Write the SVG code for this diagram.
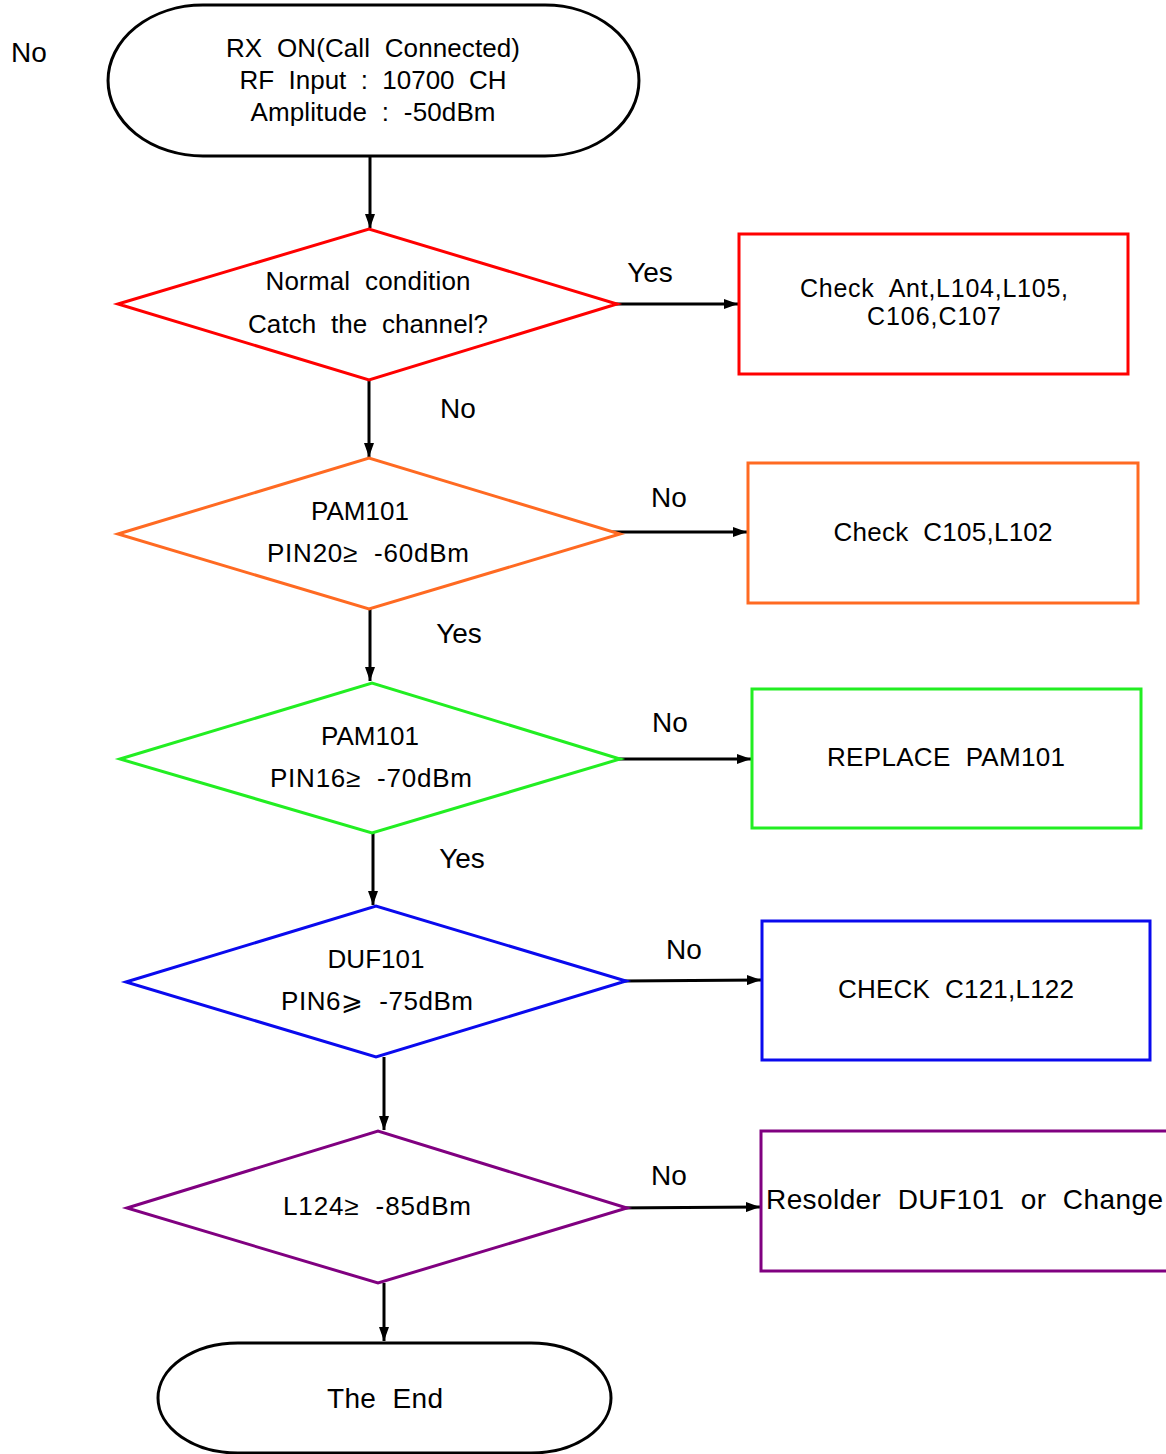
<svg xmlns="http://www.w3.org/2000/svg" width="1166" height="1454" viewBox="0 0 1166 1454">
<style>
text{font-family:"Liberation Sans",Arial,sans-serif;font-size:26px;fill:#000;text-anchor:middle;white-space:pre}
.term{fill:#fff;stroke:#000;stroke-width:3}
.dia{fill:#fff;stroke-width:3}
.box{fill:#fff;stroke-width:3}
.con{stroke:#000;stroke-width:3;fill:none;marker-end:url(#ah)}
.lbl{font-size:28px}
.big{font-size:28px}
.tight{font-size:25px}
</style>
<defs>
<marker id="ah" viewBox="0 0 14 10" refX="14" refY="5" markerWidth="14" markerHeight="10" markerUnits="userSpaceOnUse" orient="auto">
<path d="M0,0 L14,5 L0,10 Z" fill="#000"/>
</marker>
</defs>
<g id="connectors">
<line class="con" x1="370" y1="156" x2="370" y2="228"/>
<line class="con" x1="615" y1="304" x2="738" y2="304"/>
<line class="con" x1="369" y1="380" x2="369" y2="457"/>
<line class="con" x1="612" y1="532" x2="747" y2="532"/>
<line class="con" x1="370" y1="609" x2="370" y2="681"/>
<line class="con" x1="617" y1="759" x2="751" y2="759"/>
<line class="con" x1="373" y1="833" x2="373" y2="905"/>
<line class="con" x1="623" y1="981" x2="761" y2="980"/>
<line class="con" x1="384" y1="1057" x2="384" y2="1130"/>
<line class="con" x1="611" y1="1208" x2="760" y2="1207"/>
<line class="con" x1="384" y1="1283" x2="384" y2="1341"/>
<text class="lbl" x="650" y="282">Yes</text>
<text class="lbl" x="458" y="418">No</text>
<text class="lbl" x="669" y="507">No</text>
<text class="lbl" x="459" y="643">Yes</text>
<text class="lbl" x="670" y="732">No</text>
<text class="lbl" x="462" y="868">Yes</text>
<text class="lbl" x="684" y="959">No</text>
<text class="lbl" x="669" y="1185">No</text>
<text class="lbl" x="29" y="62">No</text>
</g>
<g id="start">
<path class="term" d="M203,5 L545,5 A94,75.5 0 0 1 545,156 L203,156 A95,75.5 0 0 1 203,5 Z"/>
<text x="373" y="57" textLength="294" lengthAdjust="spacing">RX  ON(Call  Connected)</text>
<text x="373" y="89" textLength="267" lengthAdjust="spacing">RF  Input  :  10700  CH</text>
<text x="373" y="121" textLength="245" lengthAdjust="spacing">Amplitude  :  -50dBm</text>
</g>
<g id="d1">
<polygon class="dia" stroke="#FF0000" points="118,304 369,229 617,304 369,380"/>
<text x="368" y="290" textLength="205" lengthAdjust="spacing">Normal  condition</text>
<text x="368" y="333" textLength="240" lengthAdjust="spacing">Catch  the  channel?</text>
</g>
<g id="b1">
<rect class="box" stroke="#FF0000" x="739" y="234" width="389" height="140"/>
<text class="tight" x="934" y="297" textLength="268" lengthAdjust="spacing">Check  Ant,L104,L105,</text>
<text class="tight" x="934" y="325" textLength="134" lengthAdjust="spacing">C106,C107</text>
</g>
<g id="d2">
<polygon class="dia" stroke="#FF6A22" points="118,534 369,458 620,534 369,609"/>
<text x="360" y="520">PAM101</text>
<text x="368" y="562" textLength="202" lengthAdjust="spacing">PIN20≥  -60dBm</text>
</g>
<g id="b2">
<rect class="box" stroke="#FF6A22" x="748" y="463" width="390" height="140"/>
<text x="943" y="541" textLength="219" lengthAdjust="spacing">Check  C105,L102</text>
</g>
<g id="d3">
<polygon class="dia" stroke="#22EE22" points="120,759 372,683 620,759 372,833"/>
<text x="370" y="745">PAM101</text>
<text x="371" y="787" textLength="202" lengthAdjust="spacing">PIN16≥  -70dBm</text>
</g>
<g id="b3">
<rect class="box" stroke="#22EE22" x="752" y="689" width="389" height="139"/>
<text x="946" y="766" textLength="238" lengthAdjust="spacing">REPLACE  PAM101</text>
</g>
<g id="d4">
<polygon class="dia" stroke="#0A0AEE" points="126,982 376,906 626,981 376,1057"/>
<text x="376" y="968">DUF101</text>
<text x="377" y="1010" textLength="192" lengthAdjust="spacing">PIN6⩾  -75dBm</text>
</g>
<g id="b4">
<rect class="box" stroke="#0A0AEE" x="762" y="921" width="388" height="139"/>
<text x="956" y="998" textLength="236" lengthAdjust="spacing">CHECK  C121,L122</text>
</g>
<g id="d5">
<polygon class="dia" stroke="#800080" points="127,1208 378,1131 627,1208 378,1283"/>
<text x="377" y="1215" textLength="188" lengthAdjust="spacing">L124≥  -85dBm</text>
</g>
<g id="b5">
<rect class="box" stroke="#800080" x="761" y="1131" width="420" height="140"/>
<text class="big" x="766" y="1209" style="text-anchor:start" textLength="397" lengthAdjust="spacing">Resolder  DUF101  or  Change</text>
</g>
<g id="end">
<path class="term" d="M238,1343 L531,1343 A80,55 0 0 1 531,1453 L238,1453 A80,55 0 0 1 238,1343 Z"/>
<text class="big" x="385" y="1408" textLength="116" lengthAdjust="spacing">The  End</text>
</g>
</svg>
